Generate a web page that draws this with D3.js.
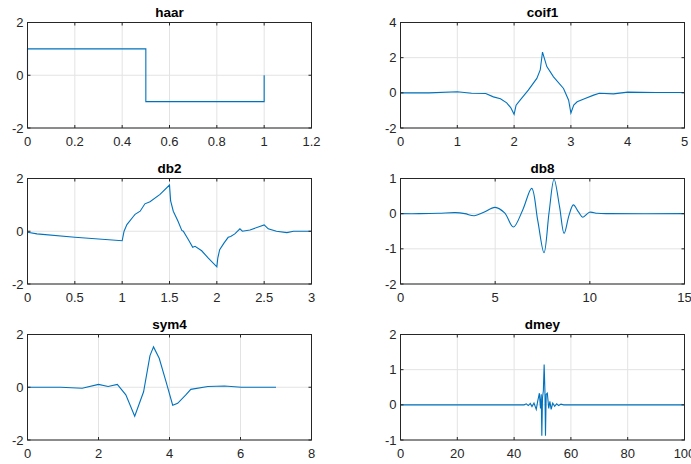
<!DOCTYPE html>
<html lang="en">
<head>
  <meta charset="UTF-8">
  <title>Wavelet functions</title>
  <script src="https://d3js.org/d3.v7.min.js"></script>
  <style>
    body { margin: 0; background: #fff; }
    svg { display: block; font-family: "Liberation Sans", Arial, sans-serif; }
    .tick-label { font-size: 13px; fill: #262626; }
    .title { font-size: 13.5px; font-weight: bold; fill: #000; }
  </style>
</head>
<body>
<div id="chart"></div>
<script>
// ---- data ----
const haarX = [0, 0, 0.5, 0.5, 1, 1];
const haarY = [0, 1, 1, -1, -1, 0];

const coif1X = [0, 0.5, 1, 1.25, 1.5, 1.635, 1.76, 1.87, 1.94, 2, 2.035, 2.106, 2.25, 2.4, 2.46, 2.5, 2.576, 2.694, 2.87, 2.96, 3, 3.05, 3.11, 3.25, 3.4, 3.5, 3.75, 4, 4.5, 5];
const coif1Y = [0, 0.0, 0.06, -0.02, -0.04, -0.23, -0.34, -0.57, -0.84, -1.22, -0.7, -0.42, 0.15, 0.82, 1.3, 2.32, 1.49, 0.91, 0.25, -0.42, -1.15, -0.7, -0.51, -0.32, -0.13, -0.02, -0.06, 0.04, 0.02, 0.02];

const db2X = [0, 0.1, 0.5, 1.0, 1.02, 1.05, 1.12, 1.136, 1.19, 1.24, 1.294, 1.4, 1.5, 1.512, 1.54, 1.57, 1.59, 1.63, 1.646, 1.7, 1.745, 1.77, 1.84, 1.91, 2.0, 2.01, 2.03, 2.075, 2.12, 2.146, 2.19, 2.244, 2.27, 2.35, 2.5, 2.543, 2.63, 2.74, 2.81, 3.0];
const db2Y = [-0.04, -0.1, -0.23, -0.36, 0.0, 0.25, 0.57, 0.64, 0.76, 1.04, 1.12, 1.4, 1.75, 1.15, 0.76, 0.53, 0.38, 0.03, 0.0, -0.32, -0.61, -0.57, -0.74, -1.02, -1.35, -1.02, -0.7, -0.45, -0.23, -0.2, -0.1, 0.09, 0.0, 0.05, 0.24, 0.09, 0.0, -0.05, 0.0, 0.0];

const db8X = [0, 1, 2, 2.9, 3.4, 3.9, 4.4, 5.0, 5.5, 5.96, 6.45, 6.93, 7.25, 7.58, 7.85, 8.11, 8.4, 8.64, 8.9, 9.13, 9.4, 9.63, 9.98, 10.4, 11, 15];
const db8Y = [0, 0, 0.01, 0.03, 0.0, -0.06, 0.04, 0.18, 0.02, -0.38, 0.1, 0.72, -0.2, -1.11, 0.05, 0.98, 0.2, -0.56, -0.05, 0.25, 0.05, -0.1, 0.04, 0.01, 0, 0];

const sym4X = [0, 0.93, 1.54, 2.0, 2.27, 2.53, 2.77, 3.02, 3.27, 3.45, 3.55, 3.71, 3.9, 4.09, 4.23, 4.46, 4.6, 5.08, 5.55, 6.02, 7];
const sym4Y = [0, 0, -0.04, 0.11, 0.03, 0.11, -0.29, -1.1, -0.17, 1.2, 1.53, 1.1, 0.22, -0.68, -0.61, -0.29, -0.08, 0.03, 0.05, 0, 0];

const dmeyX = [0, 43.5, 44.3, 45.0, 45.7, 46.3, 47.0, 47.8, 48.3, 48.9, 49.3, 49.55, 49.76, 50.0, 50.3, 50.58, 50.85, 51.05, 51.3, 51.7, 52.2, 52.6, 53.05, 53.6, 54.3, 55.0, 55.7, 56.5, 57.5, 100];
const dmeyY = [0, 0, 0.03, -0.02, 0.04, -0.05, 0.05, -0.13, 0.1, 0.33, -0.1, 0.3, -0.88, 0.2, 0.4, 1.15, 0.4, -0.88, 0.3, 0.33, -0.1, 0.1, -0.13, 0.05, -0.04, 0.03, -0.02, 0.02, 0, 0];

// ---- ticks ----
const haarXTicks = [0, 0.2, 0.4, 0.6, 0.8, 1, 1.2];
const haarYTicks = [-2, 0, 2];
const coif1XTicks = [0, 1, 2, 3, 4, 5];
const coif1YTicks = [-2, 0, 2, 4];
const db2XTicks = [0, 0.5, 1, 1.5, 2, 2.5, 3];
const db2YTicks = [-2, 0, 2];
const db8XTicks = [0, 5, 10, 15];
const db8YTicks = [-2, -1, 0, 1];
const sym4XTicks = [0, 2, 4, 6, 8];
const sym4YTicks = [-2, 0, 2];
const dmeyXTicks = [0, 20, 40, 60, 80, 100];
const dmeyYTicks = [-1, 0, 1, 2];

const panels = [
  { name: "haar",  xs: haarX,  ys: haarY,  xt: haarXTicks,  yt: haarYTicks,  col: 0, row: 0, curve: d3.curveLinear },
  { name: "coif1", xs: coif1X, ys: coif1Y, xt: coif1XTicks, yt: coif1YTicks, col: 1, row: 0, curve: d3.curveLinear },
  { name: "db2",   xs: db2X,   ys: db2Y,   xt: db2XTicks,   yt: db2YTicks,   col: 0, row: 1, curve: d3.curveLinear },
  { name: "db8",   xs: db8X,   ys: db8Y,   xt: db8XTicks,   yt: db8YTicks,   col: 1, row: 1, curve: d3.curveCatmullRom.alpha(0.5) },
  { name: "sym4",  xs: sym4X,  ys: sym4Y,  xt: sym4XTicks,  yt: sym4YTicks,  col: 0, row: 2, curve: d3.curveLinear },
  { name: "dmey",  xs: dmeyX,  ys: dmeyY,  xt: dmeyXTicks,  yt: dmeyYTicks,  col: 1, row: 2, curve: d3.curveLinear }
];

const width = 691, height = 464;
const colLeft = [27.5, 400.5];
const rowTop = [22.5, 178.5, 334.5];
const axW = 284, axH = 105.5;
const lineColor = "#0072BD";

const svg = d3.select("#chart").append("svg")
  .attr("width", width)
  .attr("height", height);

panels.forEach(p => {
  const x0 = colLeft[p.col], y0 = rowTop[p.row];
  const x = d3.scaleLinear()
    .domain(d3.extent(p.xt))
    .range([x0, x0 + axW]);
  const y = d3.scaleLinear()
    .domain(d3.extent(p.yt))
    .range([y0 + axH, y0]);

  const g = svg.append("g");

  // grid
  g.selectAll(".gx").data(p.xt).join("line")
    .attr("x1", d => x(d)).attr("x2", d => x(d))
    .attr("y1", y0).attr("y2", y0 + axH)
    .attr("stroke", "#e3e3e3").attr("stroke-width", 1);
  g.selectAll(".gy").data(p.yt).join("line")
    .attr("x1", x0).attr("x2", x0 + axW)
    .attr("y1", d => y(d)).attr("y2", d => y(d))
    .attr("stroke", "#e3e3e3").attr("stroke-width", 1);

  // curve
  const pts = p.xs.map((v, i) => [v, p.ys[i]]);
  g.append("path")
    .datum(pts)
    .attr("fill", "none")
    .attr("stroke", lineColor)
    .attr("stroke-width", 1.1)
    .attr("d", d3.line().x(d => x(d[0])).y(d => y(d[1])).curve(p.curve));

  // box
  g.append("rect")
    .attr("x", x0).attr("y", y0)
    .attr("width", axW).attr("height", axH)
    .attr("fill", "none").attr("stroke", "#262626").attr("stroke-width", 1);

  // ticks (inward)
  g.selectAll(".tx").data(p.xt).join("path")
    .attr("d", d => `M${x(d)},${y0 + axH}v-3M${x(d)},${y0}v3`)
    .attr("stroke", "#262626");
  g.selectAll(".ty").data(p.yt).join("path")
    .attr("d", d => `M${x0},${y(d)}h3M${x0 + axW},${y(d)}h-3`)
    .attr("stroke", "#262626");

  // tick labels
  g.selectAll(".lx").data(p.xt).join("text")
    .attr("class", "tick-label")
    .attr("x", d => x(d))
    .attr("y", y0 + axH + 18)
    .attr("text-anchor", "middle")
    .text(d => d);
  g.selectAll(".ly").data(p.yt).join("text")
    .attr("class", "tick-label")
    .attr("x", x0 - 4)
    .attr("y", d => y(d) + 4.5)
    .attr("text-anchor", "end")
    .text(d => d);

  // title
  g.append("text")
    .attr("class", "title")
    .attr("x", x0 + axW / 2)
    .attr("y", y0 - 6)
    .attr("text-anchor", "middle")
    .text(p.name);
});
</script>
</body>
</html>
